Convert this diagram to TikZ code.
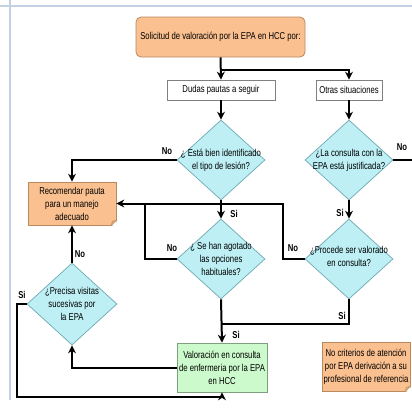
\documentclass[tikz,border=0pt]{standalone}
\usepackage{fontspec}
\setmainfont{Liberation Sans}[FakeStretch=0.77]
\usetikzlibrary{shapes.geometric,arrows.meta}
\definecolor{orfill}{HTML}{FAC090}
\definecolor{ordraw}{HTML}{B98A5E}
\definecolor{cyfill}{HTML}{BDEFF4}
\definecolor{cydraw}{HTML}{6FA8B4}
\definecolor{grfill}{HTML}{CCFACC}
\definecolor{grdraw}{HTML}{7F9F7F}
\definecolor{framecol}{HTML}{C3D1E2}
\tikzset{
  txt/.style={font=\fontsize{10}{13}\selectfont, align=center, inner sep=0pt},
  topbox/.style={draw=ordraw, fill=orfill, rounded corners=5pt, line width=0.8pt, minimum width=169pt, minimum height=40pt, txt},
  plainbox/.style={draw=gray, fill=white, line width=0.7pt, minimum height=20pt, txt},
  notebox/.style={draw=ordraw, fill=orfill, line width=0.7pt, txt},
  greenbox/.style={draw=grdraw, fill=grfill, line width=0.7pt, txt},
  dia/.style={diamond, draw=cydraw, fill=cyfill, line width=0.7pt, minimum width=88pt, minimum height=80pt, inner sep=0pt},
  conn/.style={line width=2pt, black},
  arr/.style={conn, -{Stealth[length=8pt,width=8pt]}},
  lbl/.style={font=\fontsize{10}{11}\selectfont\bfseries, inner sep=0pt}
}
\begin{document}
\begin{tikzpicture}[x=1pt,y=-1pt]
\useasboundingbox (0,0) rectangle (412,410);
\fill[white] (0,0) rectangle (412,410);
% frame
\draw[framecol, line width=1.5pt] (0,6) -- (412,6);
\draw[framecol, line width=1.5pt] (10,0) -- (10,400);

% nodes
\node[topbox] (top) at (220.5,37) {Solicitud de valoración por la EPA en HCC por:};
\node[plainbox, minimum width=108pt] (dudas) at (221,90) {Dudas pautas a seguir};
\node[plainbox, minimum width=66pt] (otras) at (349,90) {Otras situaciones};
\coordinate (split) at (221,70);

\node[dia] (d1) at (221,160) {};
\node[txt] at (d1) {¿ Está bien identificado\\el tipo de lesión?};
\node[dia] (d2) at (221,259) {};
\node[txt] at (d2) {¿ Se han agotado\\las opciones\\habituales?};
\node[dia] (d3) at (349,160) {};
\node[txt] at (d3) {¿La consulta con la\\EPA está justificada?};
\node[dia] (d4) at (349,259) {};
\node[txt] at ([yshift=3pt]d4.center) {¿Procede ser valorado\\en consulta?};
\node[dia, minimum width=90pt, minimum height=82pt] (d5) at (72,304) {};
\node[txt] at (d5) {¿Precisa visitas\\sucesivas por\\la EPA};

\node[notebox, minimum width=88pt, minimum height=43pt] (rec) at (72,203.5) {Recomendar pauta\\para un manejo\\adecuado};
\node[greenbox, minimum width=90pt, minimum height=49pt] (val) at (222,367.5) {Valoración en consulta\\de enfermeria por la EPA\\en HCC};
\node[notebox, minimum width=88pt, minimum height=49pt] (note) at (366,366.5) {No criterios de atención\\por EPA derivación a su\\profesional de referencia};

% folded corners
\foreach \n in {rec,note}{
  \fill[white] ([xshift=-5pt]\n.south east) -- ([xshift=1pt,yshift=-1pt]\n.south east) -- ([yshift=5pt]\n.south east) -- cycle;
  \fill[orfill!80!brown, draw=ordraw, line width=0.5pt] ([xshift=-5pt]\n.south east) -- ([yshift=5pt]\n.south east) -- ([xshift=-4pt,yshift=4pt]\n.south east) -- cycle;
}

% junction coordinates
\coordinate (j1) at (283,203.5);
\coordinate (j2) at (145,203.5);
\coordinate (j3) at (221,324);
\coordinate (j4) at (17,397);
\coordinate (e3) at (412,160);

% connectors
\draw[arr] (top.south) -- (dudas.north);
\draw[arr] (split) -| (otras.north);
\draw[arr] (dudas.south) -- (d1.north);
\draw[arr] (otras.south) -- (d3.north);
\draw[arr] (d1.west) -| (rec.north);
\draw[arr] (d1.south) -- (d2.north);
\draw[arr] (d4.west) -| (j1) -- (rec.east);
\draw[conn] (d2.west) -| (j2);
\draw[conn] (d3.east) -- (e3);
\draw[arr] (d3.south) -- (d4.north);
\draw[conn] (d4.south) |- (j3);
\draw[arr] (d2.south) -- (val.north);
\draw[arr] (val.west) -| (d5.south);
\draw[arr] (d5.north) -- (rec.south);
\draw[arr] (d5.west) -| (j4) -| (val.south);

% labels
\node[lbl] at (167,151) {No};
\node[lbl] at (234,214) {Si};
\node[lbl] at (172,248) {No};
\node[lbl] at (293,248) {No};
\node[lbl] at (402,147) {No};
\node[lbl] at (340,213) {Si};
\node[lbl] at (342,316) {Si};
\node[lbl] at (236,335) {Si};
\node[lbl] at (80,254) {No};
\node[lbl] at (22,295) {Si};
\end{tikzpicture}
\end{document}
